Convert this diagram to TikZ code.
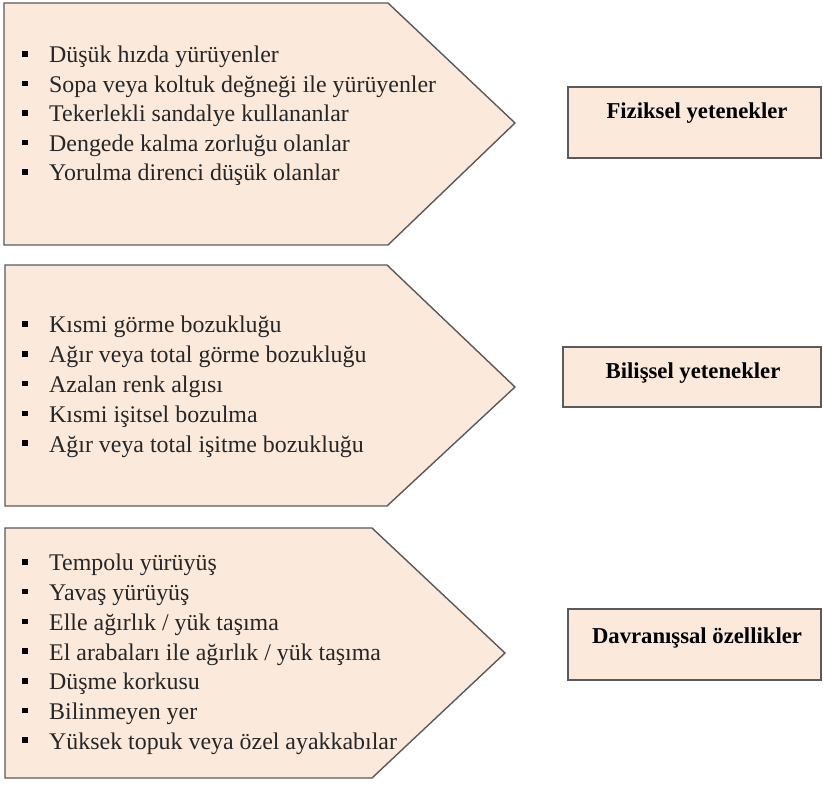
\documentclass[tikz,border=0pt]{standalone}
\usepackage{fontspec}
\setmainfont{Liberation Serif}
\definecolor{peach}{RGB}{251,233,220}
\definecolor{edge}{RGB}{90,90,90}
\begin{document}
\begin{tikzpicture}[x=1pt,y=-1pt,
  pent/.style={draw=edge,fill=peach,line width=1.4pt,line join=miter},
  catbox/.style={draw=edge,fill=peach,line width=1.4pt},
  itm/.style={anchor=base west,inner sep=0pt,font=\fontsize{23.9}{28}\selectfont,text=black!85},
  bul/.style={rectangle,fill=black,minimum size=5.5pt,inner sep=0pt},
  cat/.style={inner sep=0pt,font=\fontsize{22.7}{27}\selectfont\bfseries}]
\useasboundingbox (0,0) rectangle (823,786);
% pentagons
\draw[pent] (4,3) -- (388,3) -- (515,123) -- (388,245) -- (4,245) -- cycle;
\draw[pent] (5,265) -- (387,265) -- (515,387) -- (387,506) -- (5,506) -- cycle;
\draw[pent] (5,528) -- (372,528) -- (505,653) -- (372,778) -- (5,778) -- cycle;
% category boxes
\draw[catbox] (568,87) rectangle (821,158);
\draw[catbox] (563,347) rectangle (821,407);
\draw[catbox] (568,609) rectangle (821,680);
\node[cat] (c1) at (697,113) {Fiziksel yetenekler};
\node[cat] (c2) at (693,373) {Bilişsel yetenekler};
\node[cat] (c3) at (697,638) {Davranışsal özellikler};
% lists
\foreach \t [count=\i] in {Düşük hızda yürüyenler,Sopa veya koltuk değneği ile yürüyenler,Tekerlekli sandalye kullananlar,Dengede kalma zorluğu olanlar,Yorulma direnci düşük olanlar}{
  \node[itm] (a\i) at (49,{55+29.5*(\i-1)+8}) {\t};
  \node[bul] (ab\i) at (25,{54+29.5*(\i-1)}) {};
}
\foreach \t [count=\i] in {Kısmi görme bozukluğu,Ağır veya total görme bozukluğu,Azalan renk algısı,Kısmi işitsel bozulma,Ağır veya total işitme bozukluğu}{
  \node[itm] (b\i) at (49,{325+29.8*(\i-1)+8}) {\t};
  \node[bul] (bb\i) at (25,{324+29.8*(\i-1)}) {};
}
\foreach \t [count=\i] in {Tempolu yürüyüş,Yavaş yürüyüş,Elle ağırlık / yük taşıma,El arabaları ile ağırlık / yük taşıma,Düşme korkusu,Bilinmeyen yer,Yüksek topuk veya özel ayakkabılar}{
  \node[itm] (d\i) at (49,{563+29.7*(\i-1)+8}) {\t};
  \node[bul] (db\i) at (25,{562+29.7*(\i-1)}) {};
}
\end{tikzpicture}
\end{document}
